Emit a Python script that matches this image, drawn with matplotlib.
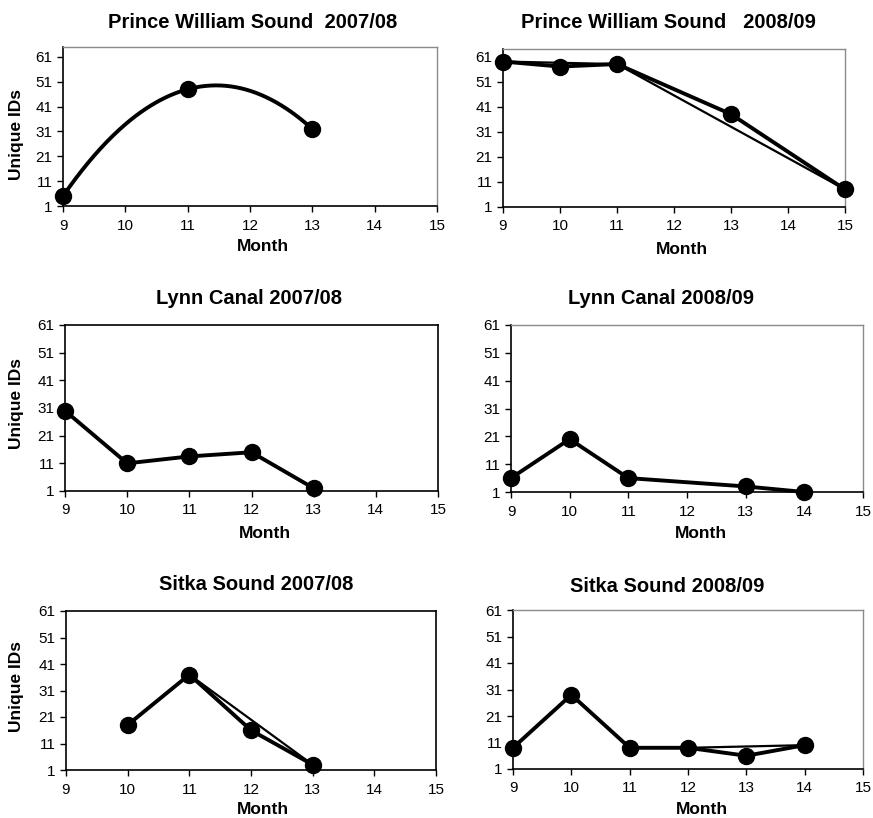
import numpy as np
import matplotlib.pyplot as plt

plt.rcParams['font.family'] = ['Liberation Sans', 'DejaVu Sans']

W, H = 873, 818

# observed unique IDs per month
pws07_month = [9, 11, 13]
pws07_ids = [5, 48, 32]

pws08_month = [9, 10, 11, 13, 15]
pws08_ids = [59, 57, 58, 38, 8]
pws08_alt_month = [9, 11, 15]
pws08_alt_ids = [59, 58, 8]

lynn07_month = [9, 10, 11, 12, 13]
lynn07_ids = [30, 11, 13.5, 15, 2]

lynn08_month = [9, 10, 11, 13, 14]
lynn08_ids = [6, 20, 6, 3, 1]

sitka07_month = [10, 11, 12, 13]
sitka07_ids = [18, 37, 16, 3]
sitka07_alt_month = [10, 11, 13]
sitka07_alt_ids = [18, 37, 3]

sitka08_month = [9, 10, 11, 12, 13, 14]
sitka08_ids = [9, 29, 9, 9, 6, 10]
sitka08_alt_month = [9, 10, 11, 12, 14]
sitka08_alt_ids = [9, 29, 9, 9, 10]

titles = ["Prince William Sound  2007/08", "Prince William Sound   2008/09",
          "Lynn Canal 2007/08", "Lynn Canal 2008/09",
          "Sitka Sound 2007/08", "Sitka Sound 2008/09"]

y_ticks = [1, 11, 21, 31, 41, 51, 61]
x_ticks = [9, 10, 11, 12, 13, 14, 15]

# panel boxes in pixels: left, right, top, bottom
boxes = [(63, 437, 47, 206), (503, 845, 49, 207),
         (65, 438, 325, 491), (511, 863, 325, 492),
         (66, 436, 611, 770), (513, 863, 610, 769)]
ymax = [65, 64, 61, 61, 61, 61]
title_pos = [(253, 22), (668, 22), (249, 298), (661, 298), (256, 585), (667, 587)]
month_pos = [(263, 247), (682, 250), (265, 533), (701, 533), (263, 809), (702, 809)]
ylabel_pos = [(17, 135), (17, 404), (17, 686)]
boxed = [False, False, True, False, True, False]

fig = plt.figure(figsize=(W / 100, H / 100), dpi=100)

def fx(px):
    return px / W

def fy(py):
    return 1 - py / H

axes = []
for i, (l, r, t, b) in enumerate(boxes):
    ax = fig.add_axes([fx(l), fy(b), (r - l) / W, (b - t) / H])
    ax.set_xlim(9, 15)
    ax.set_ylim(1, ymax[i])
    ax.set_xticks(x_ticks)
    ax.set_yticks(y_ticks)
    ax.tick_params(labelsize=11, direction='out', length=4, width=1, colors='black')
    ax.tick_params(axis='x', pad=5)
    for side in ['left', 'bottom']:
        ax.spines[side].set_color('black')
        ax.spines[side].set_linewidth(1.2)
    for side in ['top', 'right']:
        ax.spines[side].set_color('black' if boxed[i] else '#8a8a8a')
        ax.spines[side].set_linewidth(1.2 if boxed[i] else 1.0)
    fig.text(fx(title_pos[i][0]), fy(title_pos[i][1]), titles[i], ha='center', va='center',
             fontsize=14.5, fontweight='bold')
    fig.text(fx(month_pos[i][0]), fy(month_pos[i][1]), 'Month', ha='center', va='center',
             fontsize=12.5, fontweight='bold')
    axes.append(ax)

for x, y in ylabel_pos:
    fig.text(fx(x), fy(y), 'Unique IDs', ha='center', va='center', rotation=90,
             fontsize=12.5, fontweight='bold')

line_kw = dict(color='black', linewidth=2.8, marker='o', markersize=11.5, clip_on=False, zorder=3)
alt_kw = dict(color='black', linewidth=1.6, clip_on=False, zorder=2)

# Prince William Sound 2007/08: quadratic trend through the points
coef = np.polyfit(pws07_month, pws07_ids, 2)
xs = np.linspace(min(pws07_month), max(pws07_month), 200)
axes[0].plot(xs, np.polyval(coef, xs), color='black', linewidth=2.8, zorder=2)
axes[0].plot(pws07_month, pws07_ids, 'o', color='black', markersize=11.5, clip_on=False, zorder=3)

axes[1].plot(pws08_alt_month, pws08_alt_ids, **alt_kw)
axes[1].plot(pws08_month, pws08_ids, **line_kw)

axes[2].plot(lynn07_month, lynn07_ids, **line_kw)
axes[3].plot(lynn08_month, lynn08_ids, **line_kw)

axes[4].plot(sitka07_alt_month, sitka07_alt_ids, **alt_kw)
axes[4].plot(sitka07_month, sitka07_ids, **line_kw)

axes[5].plot(sitka08_alt_month, sitka08_alt_ids, **alt_kw)
axes[5].plot(sitka08_month, sitka08_ids, **line_kw)

fig.savefig('out.png', dpi=100)
